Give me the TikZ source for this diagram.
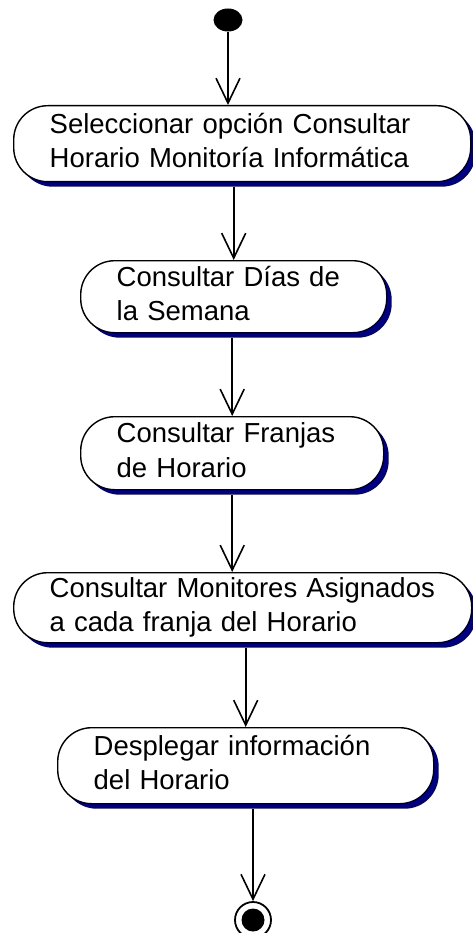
\documentclass[tikz,border=0pt]{standalone}
\usepackage{fontspec}
\setmainfont{Liberation Sans}
\usepackage{xcolor}
\usetikzlibrary{shapes.geometric,shadows,arrows.meta,positioning}
\definecolor{sombra}{RGB}{0,0,128}

\begin{document}
\begin{tikzpicture}[
    x=1pt, y=-1pt,
    accion/.style={rectangle, draw, fill=white, line width=1.4pt, rounded corners=34pt,
        anchor=north west, inner xsep=36pt, inner ysep=0pt, align=left,
        font=\fontsize{27.5}{34.5}\selectfont,
        execute at begin node=\strut, execute at end node=\strut,
        drop shadow={shadow xshift=5pt, shadow yshift=-5pt, fill=sombra, opacity=1}},
    inicio/.style={ellipse, fill=black, minimum width=29pt, minimum height=23pt, inner sep=0pt},
    final/.style={circle, draw, line width=1.8pt, minimum size=36pt, inner sep=0pt,
        path picture={\fill (path picture bounding box.center) circle (11.5pt);}},
    flujo/.style={line width=1.6pt, -{Straight Barb[length=25pt, width=24pt]}}
]
\useasboundingbox (0,0) rectangle (472,933);

\node[inicio] (ini) at (228,20) {};
\node[accion, text width=385pt, minimum height=76pt] (a1) at (13,105)
    {Seleccionar opción Consultar\\Horario Monitoría Informática};
\node[accion, text width=234pt, minimum height=72pt] (a2) at (80,260)
    {Consultar Días de\\la Semana};
\node[accion, text width=231pt, minimum height=73pt] (a3) at (80,416)
    {Consultar Franjas\\de Horario};
\node[accion, text width=386pt, minimum height=70pt] (a4) at (13,572)
    {Consultar Monitores Asignados\\a cada franja del Horario};
\node[accion, text width=304pt, minimum height=76pt] (a5) at (57,727)
    {Desplegar información\\del Horario};
\node[final] (fin) at (253,920) {};

\draw[flujo] (ini) -- (ini |- a1.north);
\draw[flujo] ([yshift=-5pt]a1.south -| a2.north) -- (a2.north);
\draw[flujo] ([yshift=-5pt]a2.south -| a3.north) -- (a3.north);
\draw[flujo] ([yshift=-5pt]a3.south) -- (a3.south |- a4.north);
\draw[flujo] ([yshift=-5pt]a4.south -| a5.north) -- (a5.north);
\draw[flujo] ([yshift=-5pt]a5.south -| fin) -- (fin);
\end{tikzpicture}
\end{document}
